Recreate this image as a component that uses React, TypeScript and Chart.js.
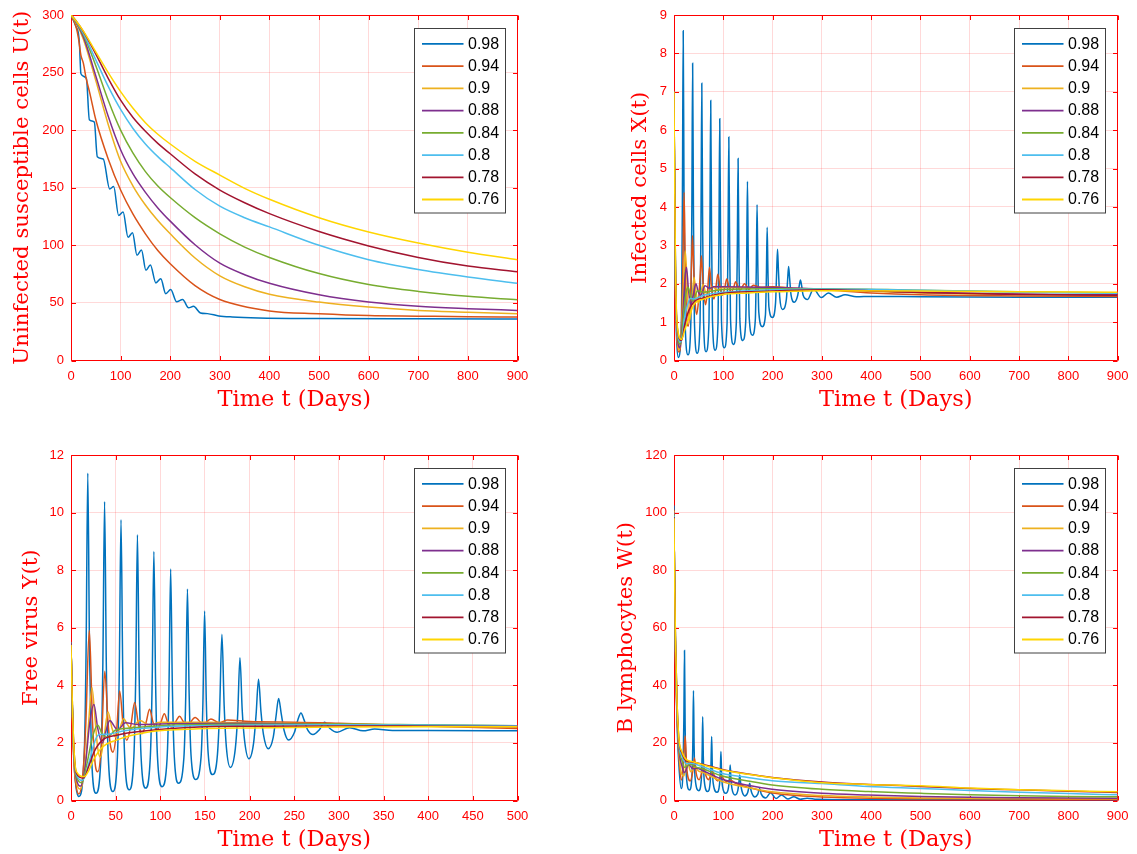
import React, { useEffect, useRef } from 'react';
import { Chart, registerables } from 'chart.js';

Chart.register(...registerables);

// ---------- series meta ----------
const seriesLabels = ['0.98', '0.94', '0.9', '0.88', '0.84', '0.8', '0.78', '0.76'];
const seriesColors = ['#0072BD', '#D95319', '#EDB120', '#7E2F8E', '#77AC30', '#4DBEEE', '#A2142F', '#FFD500'];

// ---------- Panel 1: U(t), 0..900 days ----------
const uT98 = [0, 10, 15, 17, 20, 31, 37, 47, 53, 65, 78, 86, 96, 105, 115, 124, 133, 142, 151, 160, 171, 181, 191, 201, 213, 225, 237, 247, 261, 275, 298, 325, 378, 500, 700, 900];
const uV98 = [300, 290, 284, 275, 249, 245, 209, 207, 177, 175, 149, 151, 126, 129, 107, 111, 91.4, 96, 78.4, 83, 67.4, 71, 58, 61.6, 51, 53, 45.7, 47, 41.3, 40.7, 38.7, 37.8, 37, 36.5, 36.2, 36];
const uT94 = [0, 10, 15, 20, 25, 30, 38, 50, 75, 100, 125, 150, 175, 200, 250, 300, 400, 500, 600, 700, 800, 900];
const uV94 = [300, 290, 280, 265, 258, 246, 232, 209, 175, 148, 127, 110, 95.5, 84, 65, 53, 43, 40.6, 39, 38.5, 38, 37.7];
const uT = [0, 10, 25, 50, 75, 100, 125, 150, 175, 200, 250, 300, 350, 400, 500, 600, 700, 800, 900];
const uV90 = [300, 293, 279, 243, 205, 173, 151.5, 135, 121.5, 110, 89, 73.5, 64, 57.5, 50.7, 46.4, 43.5, 42, 40.6];
const uV88 = [300, 293.5, 281, 247, 212, 183, 162, 146, 132.5, 121, 100.5, 84.5, 74.5, 67, 57, 50.7, 47, 45, 43.5];
const uV84 = [300, 294, 283, 256, 226, 200, 180, 164, 151.5, 141.5, 124, 110, 98.5, 89.5, 75.5, 66, 60, 55.7, 52.8];
const uV80 = [300, 294.5, 284, 261, 238, 218, 201.5, 188, 177, 167.5, 148.5, 134, 124, 116, 100, 87.5, 79, 72.5, 67];
const uV78 = [300, 295, 285.5, 266, 245, 226, 211, 199, 188.5, 179.5, 162, 148, 137, 127.5, 112, 99.5, 89.5, 82, 77];
const uV76 = [300, 295, 286, 268, 250, 233.5, 219, 206.5, 196.5, 188, 173, 161, 149.5, 140, 124, 111.6, 102, 94, 87.5];

// ---------- Panel 2: X(t), 0..900 days ----------
const xT98 = [0, 1, 3, 5.5, 8.7,
  15.2, 17.1, 18.7, 20.3, 22.2, 28.5,
  34.3, 36.2, 37.8, 39.4, 41.3, 47,
  52.9, 54.8, 56.4, 58, 59.9, 65,
  71, 72.9, 74.5, 76.1, 78, 83.5,
  89.3, 91.2, 92.8, 94.4, 96.3, 102,
  107.7, 109.6, 111.2, 112.8, 114.7, 120.5,
  126.5, 128.4, 130, 131.6, 133.5, 139.5,
  145.5, 147.4, 149, 150.6, 152.5, 159,
  165, 166.9, 168.5, 170.1, 172, 179,
  185.5, 187.4, 189, 190.6, 192.5, 199.5,
  206, 208, 210, 212, 214.5, 220,
  228, 230.5, 232.5, 234.5, 237.5, 244,
  251, 254.5, 256.5, 258.5, 262, 271,
  283, 299, 313, 330, 347, 370, 400, 500, 700, 900];
const xV98 = [7, 4.5, 1.8, 0.5, 0.08,
  1.1, 4.33, 8.59, 4.37, 1.16, 0.15,
  1.06, 3.95, 7.74, 3.97, 1.08, 0.19,
  1.03, 3.71, 7.22, 3.73, 1.06, 0.23,
  1.01, 3.5, 6.77, 3.52, 1.05, 0.27,
  0.99, 3.29, 6.3, 3.32, 1.04, 0.33,
  0.99, 3.08, 5.82, 3.12, 1.07, 0.42,
  1.0, 2.84, 5.26, 2.89, 1.09, 0.52,
  1.02, 2.6, 4.67, 2.67, 1.14, 0.66,
  1.07, 2.36, 4.06, 2.47, 1.26, 0.88,
  1.19, 2.18, 3.47, 2.3, 1.4, 1.12,
  1.5, 2.2, 2.9, 2.3, 1.65, 1.33,
  1.6, 2.1, 2.45, 2.15, 1.7, 1.52,
  1.7, 1.98, 2.1, 1.98, 1.7, 1.59,
  1.86, 1.64, 1.76, 1.65, 1.71, 1.66, 1.67, 1.66, 1.65, 1.65];
const xT94 = [0, 1, 3, 6, 10, 15, 18, 20.5, 23, 26, 29, 33, 35.5, 37.5, 40, 43, 46, 50, 53, 55.5, 58, 61, 64, 68, 72, 76, 81, 85, 89, 93, 98, 103, 107, 111, 116, 121, 125, 129, 134, 143, 152, 161, 175, 200, 250, 300, 400, 500, 700, 900];
const xV94 = [7, 4.6, 1.9, 0.6, 0.22, 0.8, 2.5, 4.38, 2.4, 1.1, 0.9, 1.5, 2.5, 3.25, 2.4, 1.5, 1.2, 1.6, 2.2, 2.73, 2.2, 1.7, 1.45, 1.8, 2.43, 1.9, 1.6, 1.9, 2.25, 1.95, 1.7, 1.9, 2.12, 1.95, 1.78, 1.9, 2.05, 1.95, 1.83, 2.0, 1.86, 1.96, 1.91, 1.92, 1.88, 1.85, 1.76, 1.71, 1.68, 1.67];
const xT90 = [0, 1, 3, 6, 11, 16, 20, 22.7, 26, 29, 32, 36, 40.5, 45, 50, 54.5, 59, 63.5, 68, 77, 88, 100, 200, 300, 500, 700, 900];
const xV90 = [7, 4.7, 2.0, 0.7, 0.28, 1.0, 2.2, 2.86, 2.2, 1.3, 1.05, 1.5, 2.17, 1.75, 1.5, 1.75, 1.98, 1.8, 1.7, 1.93, 1.84, 1.9, 1.88, 1.85, 1.76, 1.72, 1.7];
const xT88 = [0, 1, 3, 6, 12, 17, 22, 25.3, 29, 34, 39, 44.5, 49, 54, 63, 72, 80, 100, 200, 300, 500, 700, 900];
const xV88 = [7, 4.8, 2.1, 0.8, 0.33, 1.0, 2.1, 2.43, 1.9, 1.45, 1.7, 2.0, 1.8, 1.7, 1.95, 1.88, 1.92, 1.92, 1.9, 1.86, 1.78, 1.73, 1.71];
const xT84 = [0, 1, 3, 6, 13, 20, 25, 28.7, 33, 38, 48, 60, 100, 200, 300, 500, 700, 900];
const xV84 = [7, 4.9, 2.2, 0.85, 0.42, 1.3, 1.8, 1.91, 1.7, 1.55, 1.82, 1.78, 1.85, 1.87, 1.87, 1.83, 1.79, 1.76];
const xT80 = [0, 1, 3, 6, 14, 22, 30, 34, 40, 60, 100, 200, 300, 500, 700, 900];
const xV80 = [7, 5, 2.3, 0.9, 0.48, 1.15, 1.55, 1.62, 1.6, 1.7, 1.78, 1.84, 1.86, 1.83, 1.78, 1.75];
const xT78 = [0, 1, 3, 6, 15, 22, 30, 40, 60, 100, 150, 200, 300, 500, 700, 900];
const xV78 = [7, 5, 2.4, 0.95, 0.52, 0.95, 1.3, 1.52, 1.63, 1.75, 1.79, 1.81, 1.84, 1.77, 1.72, 1.7];
const xT76 = [0, 1, 3, 6, 15, 22, 30, 40, 60, 100, 150, 200, 300, 500, 700, 900];
const xV76 = [7, 5.1, 2.5, 1.0, 0.55, 0.8, 1.1, 1.45, 1.6, 1.72, 1.76, 1.79, 1.82, 1.81, 1.79, 1.78];

// ---------- Panel 3: Y(t), 0..500 days ----------
const yT98 = [0, 1, 3, 5.5, 8.8,
  14.8, 16.9, 18.8, 20.7, 22.8, 28,
  33.6, 35.7, 37.6, 39.5, 41.6, 46.8,
  52, 54.1, 56, 57.9, 60, 65.2,
  70.4, 72.5, 74.4, 76.3, 78.4, 83.6,
  88.8, 90.9, 92.8, 94.7, 96.8, 102,
  107.6, 109.7, 111.6, 113.5, 115.6, 120.4,
  126.4, 128.5, 130.4, 132.3, 134.4, 139.6,
  145.6, 147.7, 149.6, 151.5, 153.6, 158.7,
  164, 166.5, 169, 171.5, 174, 178.5,
  184, 186.7, 189.2, 191.7, 194.5, 199.3,
  204.5, 207.3, 210, 212.7, 215.5, 221,
  226.5, 229.5, 232.5, 235.5, 238.5, 243.7,
  250, 254, 257.5, 261, 265, 271,
  278, 284, 290, 298, 312, 327, 340, 360, 400, 500];
const yV98 = [5.5, 3.8, 1.6, 0.5, 0.14,
  1.6, 5.19, 11.37, 5.25, 1.7, 0.25,
  1.57, 4.81, 10.38, 4.84, 1.62, 0.31,
  1.54, 4.56, 9.75, 4.59, 1.59, 0.37,
  1.52, 4.36, 9.23, 4.39, 1.57, 0.43,
  1.5, 4.13, 8.65, 4.16, 1.54, 0.48,
  1.46, 3.88, 8.04, 3.95, 1.56, 0.6,
  1.48, 3.64, 7.35, 3.71, 1.58, 0.73,
  1.49, 3.36, 6.58, 3.46, 1.64, 0.9,
  1.6, 3.2, 5.77, 3.3, 1.85, 1.15,
  1.8, 3.0, 4.96, 3.15, 2.05, 1.45,
  2.0, 3.0, 4.21, 3.1, 2.3, 1.8,
  2.2, 2.9, 3.54, 3.0, 2.45, 2.1,
  2.35, 2.8, 3.04, 2.8, 2.45, 2.29,
  2.45, 2.72, 2.5, 2.37, 2.53, 2.42, 2.48, 2.43, 2.43, 2.42];
const yT94 = [0, 1, 3, 5.5, 8.6, 13, 16.5, 20.5, 24, 27, 30, 34, 37.8, 41.5, 44.5, 47, 51, 54.5, 58.5, 62.5, 67, 71.3, 75.5, 79.5, 84, 88, 92, 96, 100.5, 104.5, 108.5, 113, 117.5, 121.6, 125.5, 130, 139, 148, 156.7, 166, 175, 200, 250, 300, 400, 500];
const yV94 = [5.5, 3.7, 1.5, 0.55, 0.23, 0.8, 2.6, 5.91, 2.8, 1.3, 1.0, 1.9, 4.49, 2.7, 1.85, 1.68, 2.4, 3.8, 2.6, 2.09, 2.6, 3.4, 2.65, 2.32, 2.7, 3.17, 2.7, 2.45, 2.7, 3.01, 2.7, 2.55, 2.75, 2.93, 2.75, 2.6, 2.88, 2.65, 2.83, 2.7, 2.8, 2.74, 2.72, 2.68, 2.58, 2.5];
const yT90 = [0, 1, 3, 6, 10.5, 15, 19, 23.5, 27, 30, 33, 37, 41.4, 46, 50, 54.5, 59, 63, 67, 77, 88, 100, 150, 200, 300, 400, 500];
const yV90 = [5.5, 3.8, 1.6, 0.65, 0.4, 1.0, 2.4, 3.92, 2.8, 1.8, 1.5, 2.2, 3.07, 2.5, 2.2, 2.5, 2.84, 2.65, 2.5, 2.78, 2.62, 2.72, 2.72, 2.7, 2.66, 2.6, 2.55];
const yT88 = [0, 1, 3, 6, 11, 16, 21, 25.7, 30, 35, 39, 43.5, 48, 52, 61, 75, 100, 200, 300, 400, 500];
const yV88 = [5.5, 3.8, 1.7, 0.75, 0.5, 1.2, 2.7, 3.33, 2.5, 2.0, 2.4, 2.78, 2.6, 2.45, 2.7, 2.64, 2.66, 2.68, 2.64, 2.6, 2.57];
const yT84 = [0, 1, 3, 6, 12, 18, 24, 30, 35, 40, 50, 60, 100, 200, 300, 400, 500];
const yV84 = [5.5, 3.9, 1.8, 0.85, 0.62, 1.3, 2.2, 2.61, 2.3, 2.2, 2.45, 2.5, 2.6, 2.65, 2.66, 2.63, 2.6];
const yT80 = [0, 1, 3, 6, 13, 20, 26, 31, 40, 60, 100, 150, 200, 300, 400, 500];
const yV80 = [5.5, 3.9, 1.9, 0.9, 0.7, 1.3, 2.0, 2.28, 2.3, 2.42, 2.55, 2.6, 2.62, 2.63, 2.62, 2.6];
const yT78 = [0, 1, 3, 6, 14, 20, 26, 35, 50, 87, 143, 200, 300, 400, 500];
const yV78 = [5.5, 4.0, 2.0, 0.95, 0.78, 1.2, 1.7, 2.09, 2.26, 2.43, 2.55, 2.58, 2.59, 2.58, 2.57];
const yT76 = [0, 1, 3, 6, 15, 20, 25, 35, 50, 87, 143, 200, 300, 400, 500];
const yV76 = [5.4, 4.0, 2.0, 1.0, 0.83, 1.05, 1.4, 1.85, 2.09, 2.38, 2.49, 2.52, 2.55, 2.56, 2.56];

// ---------- Panel 4: W(t), 0..900 days ----------
const wT98 = [0, 1, 3, 6, 10, 14.6,
  18.5, 20, 21.3, 22.6, 24.5, 31.4,
  36.5, 38.2, 39.5, 40.8, 42.7, 50.2,
  55.5, 57, 58.2, 59.5, 61.3, 68.3,
  73.5, 75.1, 76.4, 77.7, 79.5, 87.2,
  92.3, 93.9, 95.2, 96.5, 98.3, 105,
  110.5, 112.5, 114, 115.5, 117.5, 124,
  129.5, 131.5, 133.5, 135.5, 138, 143.5,
  149.5, 151.5, 153.6, 155.7, 158, 164,
  170, 173.7, 177, 186, 196, 207, 218, 231, 243, 256, 270, 290, 350, 500, 700, 900];
const wV98 = [102.5, 75, 50, 28, 12, 4.2,
  12, 28, 52.1, 26, 10, 3.65,
  9, 20, 38.2, 19, 8, 3.4,
  7.5, 16, 29.1, 15, 7, 3.1,
  6.5, 13, 22.2, 12, 6, 2.85,
  5.5, 10, 17, 9.5, 5, 2.5,
  4.5, 8, 12.3, 7.5, 4.2, 1.9,
  3.5, 6, 8.9, 5.5, 3.2, 1.6,
  2.8, 4.3, 6, 4, 2.5, 1.2,
  2.2, 4.2, 2.2, 0.9, 2.7, 0.7, 1.9, 0.5, 1.3, 0.45, 0.8, 0.4, 0.3, 0.25, 0.22, 0.2];
const wT94 = [0, 1, 3, 6, 10, 15, 19, 22.6, 26, 33, 38, 41.5, 45, 51, 56, 60, 64, 70, 74.5, 78, 83, 89, 96, 105, 115, 125, 150, 200, 250, 300, 400, 500, 700, 900];
const wV94 = [101, 76, 51, 30, 15, 7.1, 12, 22.4, 11, 6.8, 10, 14.8, 9.5, 7.2, 9.5, 12.2, 9, 7.2, 8.8, 10.2, 8, 6.8, 8.5, 6.6, 7.0, 6.0, 4.6, 2.6, 1.7, 1.2, 0.75, 0.6, 0.5, 0.45];
const wT90 = [0, 1, 3, 6, 10, 15, 20, 27, 34, 42, 50, 58, 98, 150, 199, 300, 394, 500, 600, 700, 800, 900];
const wV90 = [100.5, 77, 52, 31, 17, 9.5, 8.5, 13.8, 10, 11.5, 10.2, 9.8, 6.6, 4.5, 3.0, 1.7, 1.2, 0.9, 0.75, 0.68, 0.62, 0.6];
const wT88 = [0, 1, 3, 6, 10, 16, 21, 30, 38, 46, 58, 98, 150, 199, 300, 394, 500, 600, 700, 800, 900];
const wV88 = [100, 77, 53, 32, 18, 12, 9.7, 12.5, 11, 11.2, 10.4, 7.4, 5.3, 3.9, 2.5, 1.9, 1.4, 1.1, 0.95, 0.85, 0.8];
const wT84 = [0, 1, 3, 6, 10, 16, 22, 32, 45, 58, 98, 150, 199, 300, 394, 500, 600, 700, 800, 900];
const wV84 = [99.5, 78, 54, 33, 19, 14, 11.5, 12.6, 11.6, 11, 8.5, 6.8, 5.4, 3.9, 3.1, 2.5, 2.0, 1.65, 1.42, 1.3];
const wT80 = [0, 1, 3, 6, 10, 16, 25, 35, 58, 98, 150, 199, 300, 394, 500, 600, 700, 800, 900];
const wV80 = [99, 78, 55, 34, 20, 15.5, 12.8, 12.9, 11.7, 9.4, 8.0, 6.9, 5.9, 4.9, 4.2, 3.5, 2.9, 2.4, 2.0];
const wT78 = [0, 1, 3, 6, 10, 16, 25, 40, 58, 98, 150, 199, 300, 394, 500, 600, 700, 800, 900];
const wV78 = [98.5, 79, 56, 35, 21, 16.5, 13.8, 13.3, 12.6, 10.8, 9.2, 8.0, 6.4, 5.6, 4.9, 4.2, 3.7, 3.2, 2.8];
const wV76 = [98, 79, 56, 35, 21.5, 17, 14.2, 13.4, 12.4, 10.6, 9.1, 7.9, 6.2, 5.6, 5.1, 4.3, 3.7, 3.4, 3.0];

// ---------- styling ----------
const RED = '#ff0000';
const GRID = 'rgba(255,0,0,0.15)';
const SANS = '"Liberation Sans", Arial, Helvetica, sans-serif';
const SERIF = '"DejaVu Serif", serif';
const X_TITLE_SIZE = 22.5;
const Y_TITLE_SIZE = 21.3;

type Series = { t: number[]; v: number[] };
type PanelSpec = {
  left: number; top: number; width: number; height: number;
  plotLeft: number; plotTop: number; plotRight: number; plotBottom: number;
  xMax: number; xStep: number; yMax: number; yStep: number;
  yTitle: string; yTitleX: number; xTitleY: number;
  series: Series[];
};

const panels: PanelSpec[] = [
  {
    left: 0, top: 0, width: 568, height: 427,
    plotLeft: 71, plotTop: 15, plotRight: 517.5, plotBottom: 360.5,
    xMax: 900, xStep: 100, yMax: 300, yStep: 50,
    yTitle: 'Uninfected susceptible cells U(t)', yTitleX: 22, xTitleY: 400,
    series: [
      { t: uT98, v: uV98 }, { t: uT94, v: uV94 }, { t: uT, v: uV90 }, { t: uT, v: uV88 },
      { t: uT, v: uV84 }, { t: uT, v: uV80 }, { t: uT, v: uV78 }, { t: uT, v: uV76 },
    ],
  },
  {
    left: 568, top: 0, width: 569, height: 427,
    plotLeft: 106, plotTop: 15, plotRight: 553, plotBottom: 360.5,
    xMax: 900, xStep: 100, yMax: 9, yStep: 1,
    yTitle: 'Infected cells X(t)', yTitleX: 72, xTitleY: 400,
    series: [
      { t: xT98, v: xV98 }, { t: xT94, v: xV94 }, { t: xT90, v: xV90 }, { t: xT88, v: xV88 },
      { t: xT84, v: xV84 }, { t: xT80, v: xV80 }, { t: xT78, v: xV78 }, { t: xT76, v: xV76 },
    ],
  },
  {
    left: 0, top: 427, width: 568, height: 427,
    plotLeft: 71, plotTop: 28, plotRight: 517.5, plotBottom: 373.5,
    xMax: 500, xStep: 50, yMax: 12, yStep: 2,
    yTitle: 'Free virus Y(t)', yTitleX: 31, xTitleY: 413,
    series: [
      { t: yT98, v: yV98 }, { t: yT94, v: yV94 }, { t: yT90, v: yV90 }, { t: yT88, v: yV88 },
      { t: yT84, v: yV84 }, { t: yT80, v: yV80 }, { t: yT78, v: yV78 }, { t: yT76, v: yV76 },
    ],
  },
  {
    left: 568, top: 427, width: 569, height: 427,
    plotLeft: 106, plotTop: 28, plotRight: 553, plotBottom: 373.5,
    xMax: 900, xStep: 100, yMax: 120, yStep: 20,
    yTitle: 'B lymphocytes W(t)', yTitleX: 58, xTitleY: 413,
    series: [
      { t: wT98, v: wV98 }, { t: wT94, v: wV94 }, { t: wT90, v: wV90 }, { t: wT88, v: wV88 },
      { t: wT84, v: wV84 }, { t: wT80, v: wV80 }, { t: wT78, v: wV78 }, { t: wT78, v: wV76 },
    ],
  },
];

// frame + inward tick marks (under the data), boxed legend (on top)
const framePlugin = {
  id: 'matlabFrame',
  beforeDatasetsDraw(chart: any) {
    const { ctx, chartArea: a, scales } = chart;
    const L = Math.round(a.left) + 0.5;
    const R = Math.round(a.right) - 0.5;
    const T = Math.round(a.top) + 0.5;
    const B = Math.round(a.bottom) - 0.5;
    ctx.save();
    ctx.strokeStyle = RED;
    ctx.lineWidth = 1;
    ctx.beginPath();
    ctx.rect(L, T, R - L, B - T);
    const tl = 4.5;
    scales.x.ticks.forEach((tk: any) => {
      const px = Math.round(scales.x.getPixelForValue(tk.value)) + 0.5;
      ctx.moveTo(px, B); ctx.lineTo(px, B - tl);
      ctx.moveTo(px, T); ctx.lineTo(px, T + tl);
    });
    scales.y.ticks.forEach((tk: any) => {
      const py = Math.round(scales.y.getPixelForValue(tk.value)) + 0.5;
      ctx.moveTo(L, py); ctx.lineTo(L + tl, py);
      ctx.moveTo(R, py); ctx.lineTo(R - tl, py);
    });
    ctx.stroke();
    ctx.restore();
  },
  afterDraw(chart: any) {
    const { ctx, chartArea: a } = chart;
    ctx.save();
    const bw = 91;
    const bh = 184.5;
    const bx = Math.round(a.right - 12.5 - bw) + 0.5;
    const by = Math.round(a.top + 12.5) + 0.5;
    ctx.fillStyle = '#ffffff';
    ctx.fillRect(bx, by, bw, bh);
    ctx.strokeStyle = '#404040';
    ctx.lineWidth = 1;
    ctx.strokeRect(bx, by, bw, bh);
    ctx.font = '16px ' + SANS;
    ctx.textBaseline = 'middle';
    ctx.textAlign = 'left';
    seriesLabels.forEach((lab, i) => {
      const cy = by + 15.4 + i * 22.23;
      ctx.strokeStyle = seriesColors[i];
      ctx.lineWidth = 1.8;
      ctx.beginPath();
      ctx.moveTo(bx + 7.5, cy);
      ctx.lineTo(bx + 49, cy);
      ctx.stroke();
      ctx.fillStyle = '#000000';
      ctx.fillText(lab, bx + 53.5, cy + 0.5);
    });
    ctx.restore();
  },
};

function Panel({ spec }: { spec: PanelSpec }) {
  const ref = useRef<HTMLCanvasElement | null>(null);
  useEffect(() => {
    if (!ref.current) return;
    const datasets = spec.series.map((s, i) => ({
      label: seriesLabels[i],
      data: s.t.map((x, k) => ({ x, y: s.v[k] })),
      borderColor: seriesColors[i],
      backgroundColor: seriesColors[i],
      borderWidth: 1.5,
      pointRadius: 0,
      pointHoverRadius: 0,
      fill: false,
      cubicInterpolationMode: 'monotone' as const,
      order: seriesLabels.length - 1 - i,
    }));
    const tickFont = { family: SANS, size: 13 };
    const xTitleFont = { family: SERIF, size: X_TITLE_SIZE, weight: 'normal' as const };
    const yTitleFont = { family: SERIF, size: Y_TITLE_SIZE, weight: 'normal' as const };
    const chart = new Chart(ref.current, {
      type: 'line',
      data: { datasets },
      options: {
        animation: false,
        responsive: false,
        devicePixelRatio: 1,
        events: [],
        layout: { padding: { left: 0, top: spec.plotTop, right: spec.width - spec.plotRight, bottom: 0 } },
        plugins: { legend: { display: false }, tooltip: { enabled: false } },
        scales: {
          x: {
            type: 'linear',
            min: 0,
            max: spec.xMax,
            ticks: { stepSize: spec.xStep, color: RED, font: tickFont, padding: 8.5, maxRotation: 0, autoSkip: false },
            grid: { color: GRID, lineWidth: 1, drawTicks: false },
            border: { display: false },
            title: {
              display: true, text: 'Time t (Days)', color: RED, font: xTitleFont,
              padding: { top: 0, bottom: spec.height - spec.xTitleY - X_TITLE_SIZE * 0.6 },
            },
            afterFit: (s: any) => { s.height = spec.height - spec.plotBottom; },
          },
          y: {
            type: 'linear',
            min: 0,
            max: spec.yMax,
            ticks: { stepSize: spec.yStep, color: RED, font: tickFont, padding: 7, autoSkip: false },
            grid: { color: GRID, lineWidth: 1, drawTicks: false },
            border: { display: false },
            title: {
              display: true, text: spec.yTitle, color: RED, font: yTitleFont,
              padding: { top: spec.yTitleX - Y_TITLE_SIZE * 0.6, bottom: 0 },
            },
            afterFit: (s: any) => { s.width = spec.plotLeft; },
          },
        },
      } as any,
      plugins: [framePlugin],
    });
    return () => chart.destroy();
  }, [spec]);
  return (
    <canvas
      ref={ref}
      width={spec.width}
      height={spec.height}
      style={{ position: 'absolute', left: spec.left, top: spec.top, width: spec.width, height: spec.height }}
    />
  );
}

export default function App() {
  return (
    <div style={{ position: 'absolute', left: 0, top: 0, width: 1137, height: 854, background: '#ffffff', overflow: 'hidden' }}>
      {panels.map((p, i) => (
        <Panel key={i} spec={p} />
      ))}
    </div>
  );
}
